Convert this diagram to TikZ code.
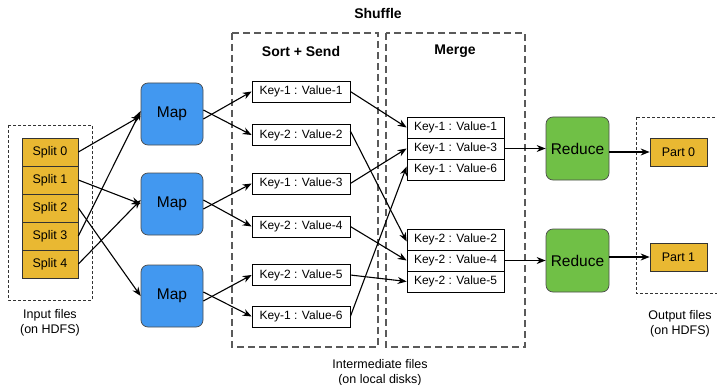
\documentclass[tikz,border=0pt]{standalone}
\usepackage{fontspec}
\setmainfont{Liberation Sans}
\usetikzlibrary{arrows.meta}
\definecolor{gold}{RGB}{233,184,50}
\definecolor{mapblue}{RGB}{66,152,240}
\definecolor{redgreen}{RGB}{112,192,70}
\definecolor{dashgray}{RGB}{90,90,90}
\tikzset{
  splitbox/.style={draw=black!80, fill=gold, line width=0.7pt, minimum width=56pt, minimum height=28pt, inner sep=0pt, font=\fontsize{12.5}{14}\selectfont},
  partbox/.style={draw=black!80, fill=gold, line width=0.7pt, minimum width=57pt, minimum height=28pt, inner sep=0pt, font=\fontsize{12.5}{14}\selectfont},
  mapbox/.style={draw=black!70, fill=mapblue, line width=0.7pt, rounded corners=7pt, minimum width=62pt, minimum height=62pt, inner sep=0pt, font=\fontsize{15.5}{17}\selectfont},
  redbox/.style={draw=black!70, fill=redgreen, line width=0.7pt, rounded corners=7pt, minimum width=63pt, minimum height=63pt, inner sep=0pt, font=\fontsize{15.5}{17}\selectfont},
  kvbox/.style={draw=black, fill=white, line width=0.7pt, minimum width=98pt, minimum height=21pt, inner sep=0pt, font=\fontsize{12}{14}\selectfont},
  mkvbox/.style={draw=black, fill=white, line width=0.7pt, minimum width=97pt, minimum height=21pt, inner sep=0pt, font=\fontsize{12}{14}\selectfont},
  filebox/.style={draw=black!80, dash pattern=on 3pt off 2pt, line width=0.7pt},
  stagebox/.style={draw=dashgray, dash pattern=on 7pt off 4pt, line width=1.1pt},
  arr/.style={-{Stealth[length=9pt,width=7pt]}, line width=1.1pt, black},
  lbl/.style={align=center, font=\fontsize{12.5}{15}\selectfont, inner sep=0pt},
  title/.style={font=\bfseries\fontsize{14}{16}\selectfont, inner sep=0pt}
}
\begin{document}
\begin{tikzpicture}[x=1pt,y=-1pt]
\useasboundingbox (0,0) rectangle (717,385);
\clip (0,0) rectangle (717,385);
\fill[white] (0,0) rectangle (717,385);

% dashed containers
\draw[filebox] (8,125) rectangle (92,300);
\draw[filebox] (636,117) rectangle (722,293);
\draw[stagebox] (232,33) rectangle (378,347);
\draw[stagebox] (386,33) rectangle (525,347);

% titles and labels
\node[title] (shuffle) at (378,13) {Shuffle};
\node[title] (sortsend) at (301,51) {Sort + Send};
\node[title] (merge) at (455,51) {Merge};
\node[lbl] (inlbl) at (50,323) {Input files\\(on HDFS)};
\node[lbl] (outlbl) at (680,324) {Output files\\(on HDFS)};
\node[lbl] (midlbl) at (380,373) {Intermediate files\\(on local disks)};

% splits
\node[splitbox] (s0) at (50,152) {Split 0};
\node[splitbox] (s1) at (50,180) {Split 1};
\node[splitbox] (s2) at (50,208) {Split 2};
\node[splitbox] (s3) at (50,236) {Split 3};
\node[splitbox] (s4) at (50,264) {Split 4};

% maps
\node[mapbox] (m1) at (172,114) {Map};
\node[mapbox] (m2) at (172,204) {Map};
\node[mapbox] (m3) at (172,296) {Map};

% sort + send key-values
\node[kvbox] (k1) at (301,91.5) {Key-1 : Value-1};
\node[kvbox] (k2) at (301,135) {Key-2 : Value-2};
\node[kvbox] (k3) at (301,183.5) {Key-1 : Value-3};
\node[kvbox] (k4) at (301,226.5) {Key-2 : Value-4};
\node[kvbox] (k5) at (301,275) {Key-2 : Value-5};
\node[kvbox] (k6) at (301,316.5) {Key-1 : Value-6};

% merge key-values
\node[mkvbox] (a1) at (455.5,127.5) {Key-1 : Value-1};
\node[mkvbox] (a3) at (455.5,148.5) {Key-1 : Value-3};
\node[mkvbox] (a6) at (455.5,169.5) {Key-1 : Value-6};
\node[mkvbox] (b2) at (455.5,239.5) {Key-2 : Value-2};
\node[mkvbox] (b4) at (455.5,260.5) {Key-2 : Value-4};
\node[mkvbox] (b5) at (455.5,281.5) {Key-2 : Value-5};

% reduces
\node[redbox] (r1) at (577.5,148.5) {Reduce};
\node[redbox] (r2) at (577.5,260.5) {Reduce};

% parts
\node[partbox] (p0) at (678.5,152) {Part 0};
\node[partbox] (p1) at (678.5,257) {Part 1};

% split -> map
\draw[arr] (s0.east) -- ([yshift=-2pt]m1.west);
\draw[arr] (s3.east) -- ([yshift=3pt]m1.west);
\draw[arr] (s1.east) -- ([yshift=0pt]m2.west);
\draw[arr] (s4.east) -- ([yshift=4pt]m2.west);
\draw[arr] (s2.east) -- (m3.west);

% map -> sort
\draw[arr] ([yshift=-5pt]m1.east) -- (k1.west);
\draw[arr] ([yshift=4pt]m1.east) -- (k2.west);
\draw[arr] ([yshift=-5pt]m2.east) -- (k3.west);
\draw[arr] ([yshift=4pt]m2.east) -- (k4.west);
\draw[arr] ([yshift=-5pt]m3.east) -- (k5.west);
\draw[arr] ([yshift=4pt]m3.east) -- (k6.west);

% sort -> merge
\draw[arr] (k1.east) -- (a1.west);
\draw[arr] ([yshift=4pt]k2.east) -- ([yshift=-2pt]b2.west);
\draw[arr] (k3.east) -- (a3.west);
\draw[arr] (k4.east) -- (b4.west);
\draw[arr] (k5.east) -- (b5.west);
\draw[arr] (k6.east) -- ([yshift=3pt]a6.west);

% merge -> reduce
\draw[arr] (a3.east) -- (r1.west);
\draw[arr] (b4.east) -- (r2.west);

% reduce -> part
\draw[arr] (r1.east |- p0.west) -- (p0.west);
\draw[arr] (r2.east |- p1.west) -- (p1.west);
\end{tikzpicture}
\end{document}
